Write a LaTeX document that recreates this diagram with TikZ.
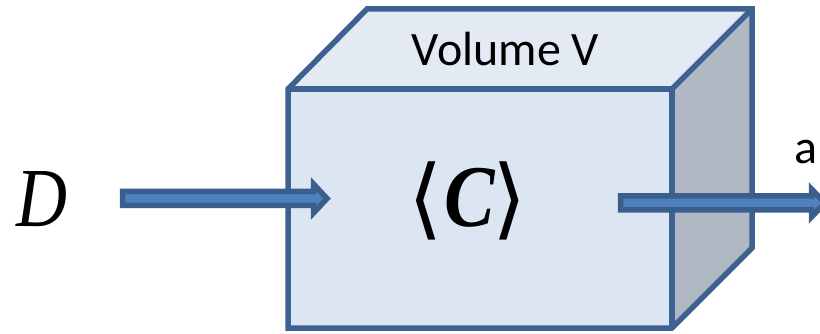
\documentclass[tikz,border=0pt]{standalone}
\usepackage{fontspec}
\setmainfont{Carlito}
\newfontfamily\serifit{Liberation Serif}
\newfontfamily\symfont{DejaVu Sans}
\definecolor{edgeblue}{HTML}{3D6190}
\definecolor{frontfill}{HTML}{DCE6F2}
\definecolor{topfill}{HTML}{E3EAF4}
\definecolor{sidefill}{HTML}{B0B8C3}
\definecolor{arrowfill}{HTML}{4F81BD}
\definecolor{arrowedge}{HTML}{3A5F8F}
\tikzset{
  x=1pt,y=-1pt,
  boxedge/.style={draw=edgeblue,line width=5.5pt,line join=miter},
  flowarrow/.style={fill=arrowfill,draw=arrowedge,line width=5.5pt,line join=miter,miter limit=10},
  label/.style={inner sep=0pt,outer sep=0pt,text=black,anchor=center}
}
\begin{document}
\begin{tikzpicture}
\useasboundingbox (0,0) rectangle (820,334);
\clip (0,0) rectangle (820,334);
% corners of the cuboid
\coordinate (fa) at (288,89);
\coordinate (fb) at (672,89);
\coordinate (fc) at (672,328);
\coordinate (fd) at (288,328);
\coordinate (ba) at (367,9);
\coordinate (bb) at (752,9);
\coordinate (bc) at (752,248);
\fill[topfill] (fa) -- (ba) -- (bb) -- (fb) -- cycle;
\fill[sidefill] (fb) -- (bb) -- (bc) -- (fc) -- cycle;
\fill[frontfill] (fa) -- (fb) -- (fc) -- (fd) -- cycle;
\draw[boxedge] (fa) -- (ba) -- (bb) -- (bc) -- (fc) -- (fd) -- cycle;
\draw[boxedge] (fa) -- (fb) -- (fc);
\draw[boxedge] (fb) -- (bb);
% inflow arrow
\filldraw[flowarrow] (122.5,191.5) -- (313.5,191.5) -- (313.5,184) -- (327,198.5) -- (313.5,213) -- (313.5,205.5) -- (122.5,205.5) -- cycle;
% outflow arrow
\filldraw[flowarrow] (620.5,196) -- (811.5,196) -- (811.5,189) -- (825,203) -- (811.5,217) -- (811.5,210) -- (620.5,210) -- cycle;
\node[label] (vol) at (505.5,49) {\fontsize{48}{48}\selectfont Volume V};
\node[label] (lang) at (425.5,201) {\fontsize{88}{88}\selectfont\symfont ⟨};
\node[label] (rang) at (510,201) {\fontsize{88}{88}\selectfont\symfont ⟩};
\node[label] (conc) at (469.5,198) {\scalebox{.86}[1]{\fontsize{88}{88}\selectfont\serifit\bfseries\itshape C}};
\node[label] (dee) at (42,199) {\scalebox{.84}[1]{\fontsize{84}{84}\selectfont\serifit\itshape D}};
\node[label] (aye) at (806,152) {\fontsize{48}{48}\selectfont a};
\end{tikzpicture}
\end{document}
